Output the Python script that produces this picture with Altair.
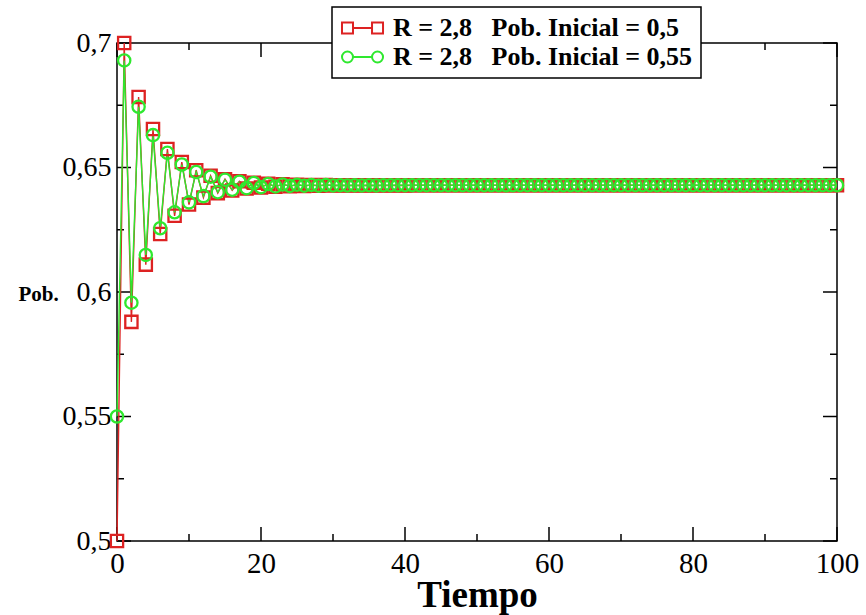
import altair as alt
import pandas as pd

# ---- data ----
tiempo = list(range(0, 101))

pob_05 = [
    0.5000, 0.7000, 0.5880, 0.6783, 0.6110, 0.6655, 0.6233, 0.6574, 0.6306, 0.6522,
    0.6351, 0.6489, 0.6379, 0.6467, 0.6397, 0.6453, 0.6408, 0.6445, 0.6416, 0.6439,
    0.6420, 0.6435, 0.6423, 0.6433, 0.6425, 0.6431, 0.6426, 0.6430, 0.6427, 0.6430,
    0.6428, 0.6429, 0.6428, 0.6429, 0.6428, 0.6429, 0.6428, 0.6429, 0.6428, 0.6429,
    0.6428, 0.6429, 0.6429, 0.6429, 0.6429, 0.6429, 0.6429, 0.6429, 0.6429, 0.6429,
    0.6429, 0.6429, 0.6429, 0.6429, 0.6429, 0.6429, 0.6429, 0.6429, 0.6429, 0.6429,
    0.6429, 0.6429, 0.6429, 0.6429, 0.6429, 0.6429, 0.6429, 0.6429, 0.6429, 0.6429,
    0.6429, 0.6429, 0.6429, 0.6429, 0.6429, 0.6429, 0.6429, 0.6429, 0.6429, 0.6429,
    0.6429, 0.6429, 0.6429, 0.6429, 0.6429, 0.6429, 0.6429, 0.6429, 0.6429, 0.6429,
    0.6429, 0.6429, 0.6429, 0.6429, 0.6429, 0.6429, 0.6429, 0.6429, 0.6429, 0.6429,
    0.6429,
]

pob_055 = [
    0.5500, 0.6930, 0.5957, 0.6744, 0.6149, 0.6630, 0.6256, 0.6559, 0.6320, 0.6512,
    0.6360, 0.6482, 0.6385, 0.6463, 0.6401, 0.6451, 0.6411, 0.6443, 0.6417, 0.6438,
    0.6421, 0.6434, 0.6424, 0.6432, 0.6426, 0.6431, 0.6427, 0.6430, 0.6427, 0.6430,
    0.6428, 0.6429, 0.6428, 0.6429, 0.6428, 0.6429, 0.6428, 0.6429, 0.6429, 0.6429,
    0.6429, 0.6429, 0.6429, 0.6429, 0.6429, 0.6429, 0.6429, 0.6429, 0.6429, 0.6429,
    0.6429, 0.6429, 0.6429, 0.6429, 0.6429, 0.6429, 0.6429, 0.6429, 0.6429, 0.6429,
    0.6429, 0.6429, 0.6429, 0.6429, 0.6429, 0.6429, 0.6429, 0.6429, 0.6429, 0.6429,
    0.6429, 0.6429, 0.6429, 0.6429, 0.6429, 0.6429, 0.6429, 0.6429, 0.6429, 0.6429,
    0.6429, 0.6429, 0.6429, 0.6429, 0.6429, 0.6429, 0.6429, 0.6429, 0.6429, 0.6429,
    0.6429, 0.6429, 0.6429, 0.6429, 0.6429, 0.6429, 0.6429, 0.6429, 0.6429, 0.6429,
    0.6429,
]

series_names = [
    "R = 2,8\u2002\u00a0Pob. Inicial = 0,5",
    "R = 2,8\u2002\u00a0Pob. Inicial = 0,55",
]
series_colors = ["#dd2222", "#2ee82e"]
series_shapes = ["square", "circle"]

x_major = [0, 20, 40, 60, 80, 100]
x_minor = [10, 30, 50, 70, 90]
y_major = [0.5, 0.55, 0.6, 0.65, 0.7]
y_minor = [0.525, 0.575, 0.625, 0.675]

# ---- tables ----
df = pd.concat([
    pd.DataFrame({"t": tiempo, "pob": pob_05, "serie": series_names[0]}),
    pd.DataFrame({"t": tiempo, "pob": pob_055, "serie": series_names[1]}),
], ignore_index=True)
legend_df = pd.DataFrame({"serie": series_names})

W, H = 720, 498
SERIF = "Liberation Serif"

xs = alt.Scale(domain=[0, 100], nice=False, zero=False)
ys = alt.Scale(domain=[0.5, 0.7], nice=False, zero=False)
cs = alt.Scale(domain=series_names, range=series_colors)
ss = alt.Scale(domain=series_names, range=series_shapes)

# legend glyphs: marker - line - marker (unit = 11 px, symbol box 22 px)
sq_path = ("M-1,-0.5H0V0.5H-1Z M0,0H1.73 M1.73,-0.5H2.73V0.5H1.73Z")
ci_path = ("M0,0A0.5,0.5 0 1,1 -1,0A0.5,0.5 0 1,1 0,0Z "
           "M0,0H1.73 M2.73,0A0.5,0.5 0 1,1 1.73,0A0.5,0.5 0 1,1 2.73,0Z")
ss_legend = alt.Scale(domain=series_names, range=[sq_path, ci_path])

x_axis = alt.Axis(values=x_major, format="d", ticks=False, domain=False, grid=False,
                  labelFlush=False,
                  labelFont=SERIF, labelFontSize=29, labelColor="black", labelPadding=8,
                  title="Tiempo", titleFont=SERIF, titleFontSize=37, titleFontWeight="bold",
                  titleColor="black", titleX=W / 2, titleY=65, titleAlign="center",
                  titleBaseline="alphabetic")
y_axis = alt.Axis(values=y_major, ticks=False, domain=False, grid=False,
                  labelFlush=False,
                  labelExpr="replace(toString(datum.value), '.', ',')",
                  labelFont=SERIF, labelFontSize=28, labelColor="black", labelPadding=6,
                  title="Pob.", titleFont=SERIF, titleFontSize=21, titleFontWeight="bold",
                  titleColor="black", titleAngle=0, titleX=-79, titleY=H / 2 + 2,
                  titleAlign="center", titleBaseline="middle")

def make_legend():
    return alt.Legend(
        title=None, orient="none", legendX=215, legendY=-36,
        fillColor="white", strokeColor="black", padding=8,
        labelFont=SERIF, labelFontSize=26, labelFontWeight="bold", labelColor="black",
        labelLimit=0, labelOffset=27, symbolSize=484, symbolStrokeWidth=2,
        symbolOpacity=1, symbolFillColor="transparent", rowPadding=3,
    )

base = alt.Chart(df)

lines = base.mark_line(strokeWidth=1.4).encode(
    x=alt.X("t:Q", scale=xs, axis=x_axis),
    y=alt.Y("pob:Q", scale=ys, axis=y_axis),
    color=alt.Color("serie:N", scale=cs, legend=None),
    detail="serie:N",
)

points = base.mark_point(filled=False, size=150, strokeWidth=2.3, opacity=1).encode(
    x=alt.X("t:Q", scale=xs, axis=x_axis),
    y=alt.Y("pob:Q", scale=ys, axis=y_axis),
    color=alt.Color("serie:N", scale=cs, legend=None),
    shape=alt.Shape("serie:N", scale=ss, legend=None),
)

# legend-only layer (invisible marks, visible legend)
legend_layer = alt.Chart(legend_df).mark_point(filled=False, opacity=0).encode(
    color=alt.Color("serie:N", scale=cs, legend=make_legend()),
    shape=alt.Shape("serie:N", scale=ss_legend, legend=make_legend()),
)

def xticks(vals, length):
    d = alt.Chart(pd.DataFrame({"v": vals}))
    bottom = d.mark_rule(color="black", strokeWidth=1.5).encode(
        x=alt.X("v:Q", scale=xs, axis=x_axis), y=alt.value(H), y2=alt.value(H - length))
    top = d.mark_rule(color="black", strokeWidth=1.5).encode(
        x=alt.X("v:Q", scale=xs, axis=x_axis), y=alt.value(0), y2=alt.value(length))
    return [bottom, top]

def yticks(vals, length):
    d = alt.Chart(pd.DataFrame({"v": vals}))
    left = d.mark_rule(color="black", strokeWidth=1.5).encode(
        y=alt.Y("v:Q", scale=ys, axis=y_axis), x=alt.value(0), x2=alt.value(length))
    right = d.mark_rule(color="black", strokeWidth=1.5).encode(
        y=alt.Y("v:Q", scale=ys, axis=y_axis), x=alt.value(W), x2=alt.value(W - length))
    return [left, right]

tick_layers = xticks(x_major, 14) + xticks(x_minor, 7) + yticks(y_major, 14) + yticks(y_minor, 7)

chart = alt.layer(*tick_layers, lines, points, legend_layer).resolve_scale(
    color="independent", shape="independent"
).properties(
    width=W, height=H,
    autosize=alt.AutoSizeParams(type="none"),
    padding={"left": 117, "top": 43, "right": 29, "bottom": 74},
    background="white",
).configure_view(
    stroke="black", strokeWidth=1.5
).configure_legend(
    strokeWidth=1.5
)

chart.save("out.html", embed_options={"renderer": "svg", "actions": False})
